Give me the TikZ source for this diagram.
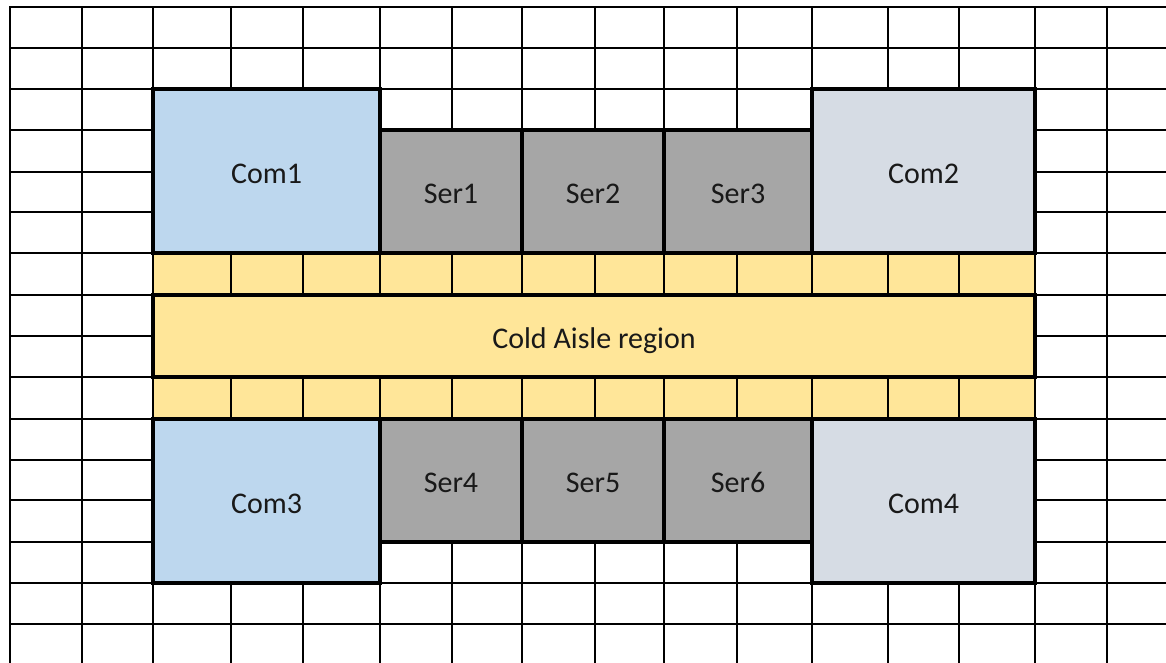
\documentclass[tikz,border=0pt]{standalone}
\usepackage{fontspec}
\setmainfont{Carlito}
\definecolor{comblue}{HTML}{BDD7EE}
\definecolor{comgray}{HTML}{D6DCE4}
\definecolor{sergray}{HTML}{A6A6A6}
\definecolor{aisle}{HTML}{FFE699}
\tikzset{
  gridline/.style={line width=2pt, black, line cap=rect},
  unitbox/.style={draw=black, line width=4pt, rectangle, inner sep=0pt, outer sep=0pt,
    font=\fontsize{30}{36}\selectfont, text=black!90, text height=24pt, text depth=0pt},
  combox/.style={unitbox, fill=comblue, minimum width=227pt, minimum height=164pt},
  combox2/.style={unitbox, fill=comgray, minimum width=223pt, minimum height=164pt},
  serbox/.style={unitbox, fill=sergray, minimum height=123pt},
  aislebox/.style={unitbox, fill=aisle, minimum width=882pt, minimum height=82pt}
}
\begin{document}
\begin{tikzpicture}[x=1pt,y=-1pt]
\useasboundingbox (0,0) rectangle (1166,663);
\fill[white] (0,0) rectangle (1166,663);
% yellow strips beside the cold aisle
\fill[aisle] (153,253) rectangle (1035,295);
\fill[aisle] (153,377) rectangle (1035,419);
% floor grid
\foreach \x in {10,82,153,231,303,380,452,522,595,664,737,812,888,959,1035,1107}
  \draw[gridline] (\x,7) -- (\x,663);
\foreach \y in {7,48,89,130,172,212,253,295,336,377,419,460,500,542,583,624}
  \draw[gridline] (10,\y) -- (1166,\y);
% upper row
\node[combox]  (com1) at (266.5,171) {Com1};
\node[serbox, minimum width=142pt] (ser1) at (451,191.5) {Ser1};
\node[serbox, minimum width=142pt] (ser2) at (593,191.5) {Ser2};
\node[serbox, minimum width=148pt] (ser3) at (738,191.5) {Ser3};
\node[combox2] (com2) at (923.5,171) {Com2};
% cold aisle
\node[aislebox] (cold) at (594,336) {Cold Aisle region};
% lower row
\node[combox]  (com3) at (266.5,501) {Com3};
\node[serbox, minimum width=142pt] (ser4) at (451,480.5) {Ser4};
\node[serbox, minimum width=142pt] (ser5) at (593,480.5) {Ser5};
\node[serbox, minimum width=148pt] (ser6) at (738,480.5) {Ser6};
\node[combox2] (com4) at (923.5,501) {Com4};
\end{tikzpicture}
\end{document}
